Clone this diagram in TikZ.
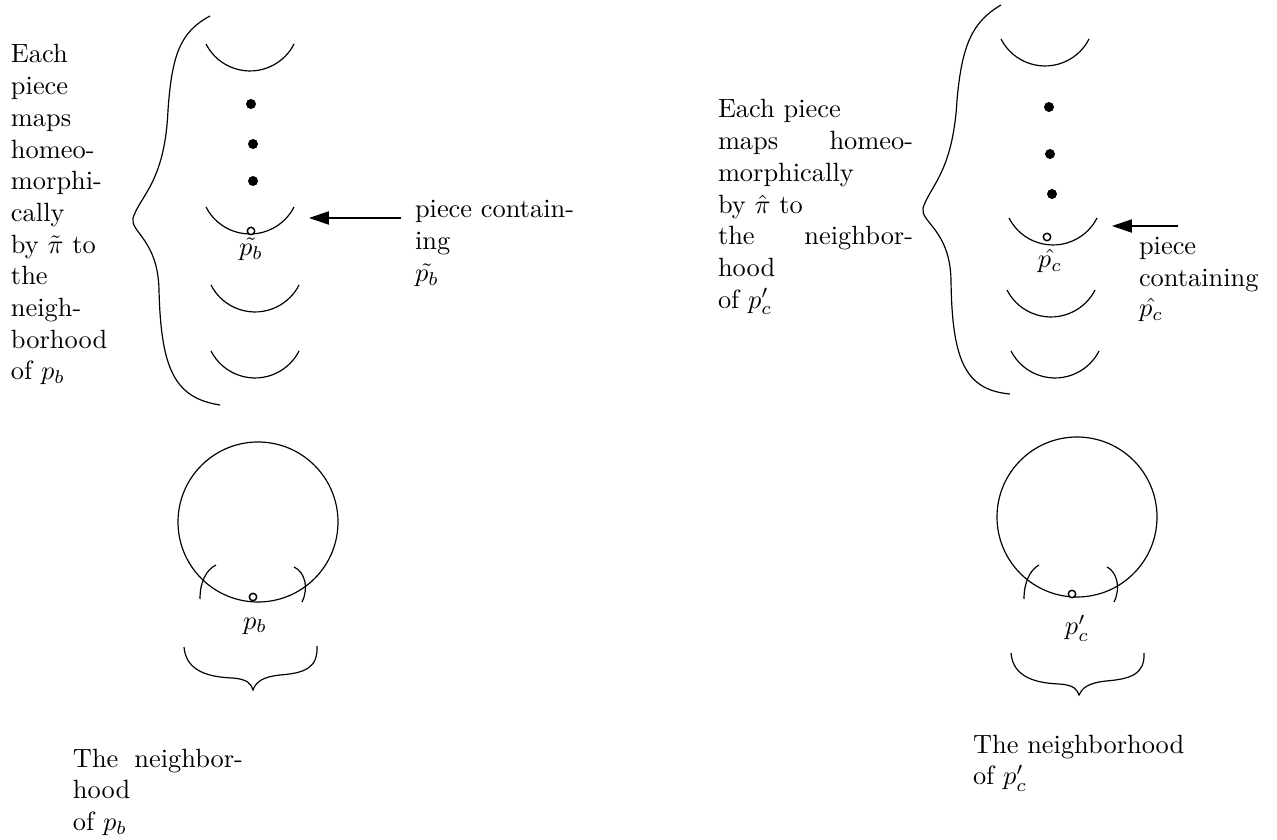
\documentclass[tikz,border=0pt]{standalone}
\usetikzlibrary{arrows.meta}
\tikzset{
  lbl/.style={inner sep=0pt, outer sep=0pt, anchor=base west, font=\fontsize{10}{12}\selectfont},
  clbl/.style={inner sep=0pt, outer sep=0pt, anchor=base, font=\fontsize{10}{12}\selectfont},
  curve/.style={line width=0.45pt},
  bigdot/.style={fill=black},
  opendot/.style={draw=black, fill=white, line width=0.55pt},
  ptr/.style={line width=0.45pt, -{Triangle[length=7.5pt,width=5pt]}},
  cupp/.pic={\draw[curve] (-44,0) arc[start angle=153,end angle=27,radius=49.4];}
}
\begin{document}
\begin{tikzpicture}[x=0.3788pt, y=-0.3788pt]
\useasboundingbox (0,0) rectangle (1277,840);

% ---------------- left upper cluster ----------------
\node[lbl] (lt1) at (11,63) {Each};
\node[lbl] (lt2) at (11,94.7) {piece};
\node[lbl] (lt3) at (11,126.4) {maps};
\node[lbl] (lt4) at (11,158.1) {homeo-};
\node[lbl] (lt5) at (11,189.8) {morphi-};
\node[lbl] (lt6) at (11,221.5) {cally};
\node[lbl] (lt7) at (11,253.2) {by $\tilde{\pi}$ to};
\node[lbl] (lt8) at (11,284.9) {the};
\node[lbl] (lt9) at (11,316.6) {neigh-};
\node[lbl] (lt10) at (11,348.3) {borhood};
\node[lbl] (lt11) at (11,380) {of $p_b$};

\draw[curve] (210,16) .. controls (180,32) and (172,55) .. (168,110)
  .. controls (165,182) and (140,196) .. (133,218)
  .. controls (130,232) and (158,240) .. (159,290)
  .. controls (161,370) and (175,398) .. (220,405);

\pic at (250,44) {cupp};
\pic at (250,207) {cupp};
\pic at (255,285) {cupp};
\pic at (255,351) {cupp};

\fill[bigdot] (251,104) circle[radius=5];
\fill[bigdot] (253,144) circle[radius=5];
\fill[bigdot] (253,181) circle[radius=5];
\draw[opendot] (251,231) circle[radius=3.7];
\node[clbl] (ptb) at (251,256) {$\tilde{p_b}$};

\coordinate (lTail) at (401,218);
\coordinate (lTip) at (309,218);
\draw[ptr] (lTail) -- (lTip);
\node[lbl] (la1) at (415,218) {piece contain-};
\node[lbl] (la2) at (415,250) {ing};
\node[lbl] (la3) at (415,282) {$\tilde{p_b}$};

% ---------------- right upper cluster ----------------
\node[lbl] (rt1) at (718,118) {Each piece};
\node[lbl] (rt2) at (718,149.7) {\makebox[73.9pt][s]{maps homeo-}};
\node[lbl] (rt3) at (718,181.4) {morphically};
\node[lbl] (rt4) at (718,213.1) {by $\hat{\pi}$ to};
\node[lbl] (rt5) at (718,244.8) {\makebox[73.9pt][s]{the neighbor-}};
\node[lbl] (rt6) at (718,276.5) {hood};
\node[lbl] (rt7) at (718,308.2) {of $p'_c$};

\draw[curve] (1001,5) .. controls (972,22) and (962,45) .. (957,100)
  .. controls (953,172) and (930,186) .. (923,208)
  .. controls (920,222) and (950,230) .. (951,280)
  .. controls (952,360) and (965,390) .. (1010,394);

\pic at (1045,39) {cupp};
\pic at (1053,218) {cupp};
\pic at (1051,290) {cupp};
\pic at (1055,351) {cupp};

\fill[bigdot] (1049,107) circle[radius=5];
\fill[bigdot] (1050,154) circle[radius=5];
\fill[bigdot] (1052,194) circle[radius=5];
\draw[opendot] (1047,237) circle[radius=3.7];
\node[clbl] (phc) at (1050,268) {$\hat{p_c}$};

\coordinate (rTail) at (1178,226);
\coordinate (rTip) at (1112,226);
\draw[ptr] (rTail) -- (rTip);
\node[lbl] (ra1) at (1139,255) {piece};
\node[lbl] (ra2) at (1139,287) {containing};
\node[lbl] (ra3) at (1139,317) {$\hat{p_c}$};

% ---------------- left lower cluster ----------------
\draw[curve] (258,522) circle[radius=80];
\draw[curve] (216,565) .. controls (206,570) and (200,582) .. (200,599);
\draw[curve] (294,567) .. controls (305,572) and (309,588) .. (302,602);
\draw[opendot] (253,597) circle[radius=3.7];
\node[clbl] (pb) at (255,629) {$p_b$};
\draw[curve] (184,647) .. controls (186,672) and (210,677) .. (232,678)
  .. controls (248,679) and (251,684) .. (253,690)
  .. controls (256,682) and (262,677) .. (280,675)
  .. controls (305,673) and (318,668) .. (317,646);
\node[lbl] (lb1) at (73,767) {\makebox[64.4pt][s]{The neighbor-}};
\node[lbl] (lb2) at (73,798.7) {hood};
\node[lbl] (lb3) at (73,830.4) {of $p_b$};

% ---------------- right lower cluster ----------------
\draw[curve] (1077,517) circle[radius=80];
\draw[curve] (1039,565) .. controls (1030,570) and (1024,582) .. (1024,599);
\draw[curve] (1107,567) .. controls (1117,572) and (1121,588) .. (1114,602);
\draw[opendot] (1072,594) circle[radius=3.7];
\node[clbl] (pc) at (1077,635) {$p'_c$};
\draw[curve] (1011,653) .. controls (1013,678) and (1037,683) .. (1059,684)
  .. controls (1075,685) and (1077,690) .. (1079,695)
  .. controls (1082,688) and (1088,683) .. (1106,681)
  .. controls (1131,679) and (1145,674) .. (1144,653);
\node[lbl] (rb1) at (973,753) {The neighborhood};
\node[lbl] (rb2) at (973,784.7) {of $p'_c$};
\end{tikzpicture}
\end{document}
